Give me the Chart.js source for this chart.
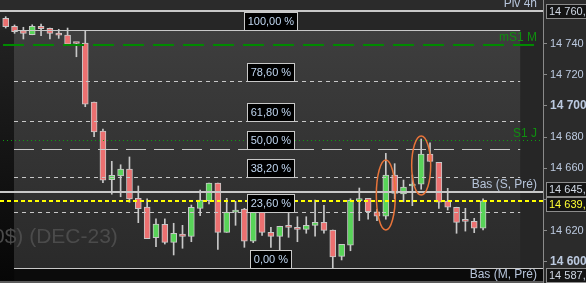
<!DOCTYPE html>
<html>
<head>
<meta charset="utf-8">
<script src="https://cdn.jsdelivr.net/npm/chart.js@4.4.0/dist/chart.umd.min.js"></script>
<style>
  html, body { margin: 0; padding: 0; background: #2b2b2b; }
  #wrap { width: 586px; height: 283px; position: relative; }
</style>
</head>
<body>
<div id="wrap"><canvas id="chart"></canvas></div>
<script>
// 4h candles (index 0 = leftmost, partly hidden)
var opens = [14756.0, 14756.1, 14751.0, 14748.2, 14745.6, 14751.0, 14749.7, 14746.7, 14745.4, 14740.2,
  14740.3, 14702.5, 14683.9, 14652.7, 14655.1, 14659.6, 14640.8, 14635.2, 14615.6, 14624.1,
  14612.6, 14617.9, 14616.4, 14634.4, 14639.3, 14650.6, 14619.0, 14632.0, 14633.9, 14613.3,
  14631.8, 14619.0, 14616.4, 14622.3, 14622.2, 14620.9, 14623.5, 14625.4, 14620.5, 14603.6,
  14610.7, 14639.3, 14640.8, 14632.2, 14629.3, 14655.7, 14643.6, 14648.7, 14649.8, 14669.2,
  14663.9, 14639.1, 14635.1, 14626.1, 14626.1, 14621.6];
var highs = [14757.6, 14757.2, 14751.9, 14750.4, 14752.0, 14752.5, 14749.9, 14749.1, 14749.9, 14740.2,
  14748.2, 14702.5, 14685.2, 14664.5, 14662.3, 14667.3, 14648.7, 14640.4, 14627.6, 14627.6,
  14624.8, 14623.5, 14636.5, 14646.1, 14650.6, 14650.6, 14640.8, 14638.9, 14634.4, 14634.0,
  14634.0, 14622.2, 14622.9, 14631.6, 14629.0, 14629.0, 14639.7, 14636.3, 14620.5, 14611.3,
  14640.5, 14647.4, 14640.8, 14633.8, 14669.6, 14663.0, 14652.5, 14655.7, 14678.8, 14676.4,
  14663.9, 14647.2, 14635.1, 14634.4, 14628.0, 14640.4];
var lows = [14749.3, 14749.9, 14746.5, 14742.9, 14745.6, 14745.0, 14742.9, 14743.3, 14739.5, 14731.5,
  14699.5, 14680.3, 14650.8, 14643.4, 14641.8, 14638.3, 14625.2, 14614.9, 14609.8, 14611.5,
  14604.5, 14608.8, 14613.0, 14629.7, 14637.2, 14608.1, 14619.0, 14623.5, 14609.4, 14612.4,
  14617.0, 14609.4, 14607.7, 14615.8, 14613.0, 14618.4, 14616.6, 14618.4, 14596.3, 14601.3,
  14607.2, 14626.5, 14627.4, 14626.5, 14627.4, 14640.5, 14638.6, 14636.1, 14646.6, 14664.5,
  14634.4, 14633.3, 14618.4, 14619.8, 14618.8, 14620.5];
var closes = [14751.0, 14750.8, 14747.6, 14746.5, 14751.0, 14749.5, 14746.5, 14745.3, 14739.5, 14740.0,
  14701.2, 14683.3, 14652.5, 14655.5, 14659.6, 14640.4, 14634.1, 14614.9, 14624.3, 14612.6,
  14618.4, 14616.4, 14635.0, 14639.7, 14650.6, 14619.0, 14631.8, 14633.3, 14613.3, 14632.2,
  14619.0, 14616.4, 14622.9, 14622.2, 14620.9, 14623.5, 14625.4, 14620.3, 14603.2, 14611.3,
  14639.5, 14640.5, 14632.2, 14629.3, 14655.7, 14644.0, 14648.0, 14650.0, 14669.2, 14664.5,
  14638.3, 14635.1, 14625.4, 14626.0, 14621.6, 14639.2];

var yTicks = [14600, 14620, 14640, 14660, 14680, 14700, 14720, 14740];

// fibonacci retracement
var fibHigh = 14748.6;
var fibLow = 14596.2;
var fibFrom = 1.94;
var fibTo = 59.2;
var fibLabelAt = 31;
var fibPct = [100, 78.6, 61.8, 50, 38.2, 23.6, 0];
var fibText = ['100,00 %', '78,60 %', '61,80 %', '50,00 %', '38,20 %', '23,60 %', '0,00 %'];

// horizontal levels
var levelNames = ['Piv 4h', 'mS1 M', 'S1 J', 'Bas (S, Pré)', 'Bas (M, Pré)'];
var levelValues = [14760.9, 14739.2, 14678.0, 14645.1, 14587.4];
var lastPrice = 14638.9;

// price boxes on the axis
var boxValues = [14760.9, 14645.1, 14638.9, 14587.4];
var boxTexts = ['14 760,9', '14 645,1', '14 639,1', '14 587,4'];

// circled candles
var markIndex = [44, 48];
var markLow = [14620.5, 14642.9];
var markHigh = [14665.4, 14680.7];

var bodies = [], wicks = [];
for (var i = 0; i < opens.length; i++) {
  bodies.push({x: i, y: [opens[i], closes[i]]});
  wicks.push({x: i, y: [lows[i], highs[i]]});
}

var FONT = '"Liberation Sans", Arial, sans-serif';

function hline(ctx, x1, x2, y, color, width, dash) {
  ctx.save();
  ctx.strokeStyle = color;
  ctx.lineWidth = width;
  ctx.setLineDash(dash || []);
  var yy = width % 2 === 1 ? Math.round(y) + 0.5 : Math.round(y);
  ctx.beginPath();
  ctx.moveTo(x1, yy);
  ctx.lineTo(x2, yy);
  ctx.stroke();
  ctx.restore();
}

var decor = {
  id: 'decor',
  beforeDraw: function (chart) {
    var ctx = chart.ctx, ca = chart.chartArea;
    var W = chart.width, H = chart.height;
    var sx = chart.scales.x, sy = chart.scales.y;
    var yTop = sy.getPixelForValue(fibHigh), yBot = sy.getPixelForValue(fibLow);
    var xa = sx.getPixelForValue(fibFrom), xb = sx.getPixelForValue(fibTo);
    var yPiv = sy.getPixelForValue(levelValues[0]);
    ctx.save();
    ctx.fillStyle = '#2b2b2b';
    ctx.fillRect(0, 0, W, H);
    ctx.fillStyle = '#262626';
    ctx.fillRect(ca.left, yPiv, ca.right - ca.left, H - yPiv);
    var g = ctx.createLinearGradient(0, yTop, 0, H);
    g.addColorStop(0, '#222222');
    g.addColorStop(1, '#060606');
    ctx.fillStyle = g;
    ctx.fillRect(ca.left, Math.round(yTop), xa - ca.left, H - yTop);
    ctx.fillStyle = '#0b0b0b';
    ctx.fillRect(xa, Math.round(yBot), ca.right - xa, H - yBot);
    var g2 = ctx.createLinearGradient(0, yTop, 0, yBot);
    g2.addColorStop(0, '#3e3e3e');
    g2.addColorStop(1, '#2a2a2a');
    ctx.fillStyle = g2;
    ctx.fillRect(xa, Math.round(yTop), xb - xa, Math.round(yBot) - Math.round(yTop));
    // watermark
    ctx.fillStyle = '#4b4b4b';
    ctx.font = '21px ' + FONT;
    ctx.textBaseline = 'alphabetic';
    ctx.textAlign = 'left';
    ctx.fillText('0$) (DEC-23)', ca.left - 7, yBot - 25);
    ctx.restore();
  },
  afterDatasetsDraw: function (chart) {
    var ctx = chart.ctx, ca = chart.chartArea;
    var sx = chart.scales.x, sy = chart.scales.y;
    var xa = sx.getPixelForValue(fibFrom), xb = sx.getPixelForValue(fibTo);

    // fib levels
    for (var k = 0; k < fibPct.length; k++) {
      var y = sy.getPixelForValue(fibLow + fibPct[k] / 100 * (fibHigh - fibLow));
      if (fibPct[k] === 100) hline(ctx, xa, xb, y, '#c8c8c8', 1);
      else if (fibPct[k] === 0) hline(ctx, xa, ca.right, y, '#c8c8c8', 1);
      else if (fibPct[k] === 50) hline(ctx, xa, xb, y, '#c8c8c8', 1, [20, 8]);
      else hline(ctx, xa, xb, y, '#c8c8c8', 1, [4, 4]);
    }

    // other levels
    hline(ctx, ca.left, ca.right, sy.getPixelForValue(levelValues[0]), '#c8c8c8', 2);
    hline(ctx, ca.left + 3, ca.right - 8, sy.getPixelForValue(levelValues[1]), '#008a00', 2, [21, 9]);
    hline(ctx, ca.left + 3, ca.right, sy.getPixelForValue(levelValues[2]), '#109a10', 1, [1, 3]);
    hline(ctx, ca.left, ca.right, sy.getPixelForValue(levelValues[3]), '#c8c8c8', 2);
    hline(ctx, ca.left, ca.right, sy.getPixelForValue(levelValues[4]), '#5c5c5c', 2);
    hline(ctx, ca.left, ca.right, sy.getPixelForValue(lastPrice), '#ffff00', 2, [4, 3]);

    // level names
    ctx.save();
    ctx.font = '12px ' + FONT;
    ctx.textAlign = 'right';
    ctx.textBaseline = 'middle';
    for (var n = 0; n < levelNames.length; n++) {
      ctx.fillStyle = (n === 1 || n === 2) ? '#0f8f0f' : '#b6c4da';
      ctx.fillText(levelNames[n], ca.right - 6, sy.getPixelForValue(levelValues[n]) - 7);
    }
    ctx.restore();

    // circled candles
    ctx.save();
    ctx.strokeStyle = '#e8743a';
    ctx.lineWidth = 1.5;
    for (var m = 0; m < markIndex.length; m++) {
      var y1 = sy.getPixelForValue(markHigh[m]), y2 = sy.getPixelForValue(markLow[m]);
      ctx.beginPath();
      ctx.ellipse(sx.getPixelForValue(markIndex[m]), (y1 + y2) / 2, 9.5, (y2 - y1) / 2, 0, 0, Math.PI * 2);
      ctx.stroke();
    }
    ctx.restore();

    // fib labels
    ctx.save();
    ctx.font = '11px ' + FONT;
    ctx.textAlign = 'center';
    ctx.textBaseline = 'middle';
    var cx = sx.getPixelForValue(fibLabelAt);
    for (var f = 0; f < fibPct.length; f++) {
      var ly = Math.round(sy.getPixelForValue(fibLow + fibPct[f] / 100 * (fibHigh - fibLow)));
      var w = Math.round(ctx.measureText(fibText[f]).width) + 7;
      var bx = Math.round(cx - w / 2) + 0.5;
      ctx.fillStyle = '#000000';
      ctx.fillRect(bx, ly - 18 + 0.5, w, 18);
      ctx.strokeStyle = '#c8c8c8';
      ctx.lineWidth = 1;
      ctx.strokeRect(bx, ly - 18 + 0.5, w, 18);
      ctx.fillStyle = '#c0d6f0';
      ctx.fillText(fibText[f], cx, ly - 8.5);
    }
    ctx.restore();
  },
  afterDraw: function (chart) {
    var ctx = chart.ctx, ca = chart.chartArea, H = chart.height;
    var sy = chart.scales.y;
    var nudge = [0, -2.5, 3, 0];
    ctx.save();
    ctx.font = '11px ' + FONT;
    ctx.textAlign = 'left';
    ctx.textBaseline = 'middle';
    for (var b = 0; b < boxValues.length; b++) {
      var c = sy.getPixelForValue(boxValues[b]) + nudge[b];
      c = Math.min(c, H - 8);
      var top = Math.round(c - 7) + 0.5;
      ctx.fillStyle = '#141414';
      ctx.fillRect(ca.right + 3.5, top, 60, 14);
      ctx.strokeStyle = '#8c8c8c';
      ctx.lineWidth = 1;
      ctx.strokeRect(ca.right + 3.5, top, 60, 14);
      ctx.fillStyle = b === 2 ? '#ffff33' : '#d0d8e4';
      ctx.fillText(boxTexts[b], ca.right + 6, top + 7.5);
    }
    ctx.restore();
  }
};

var config = {
  type: 'bar',
  data: {
    datasets: [{
      label: 'corps',
      data: bodies,
      grouped: false,
      barThickness: 6,
      minBarLength: 2,
      borderWidth: 1,
      borderSkipped: false,
      borderColor: '#c8c8c8',
      backgroundColor: function (c) {
        var i = c.dataIndex;
        return closes[i] >= opens[i] ? '#58d458' : '#ec7070';
      }
    }, {
      label: 'mèches',
      data: wicks,
      grouped: false,
      barThickness: 1,
      borderWidth: 0,
      backgroundColor: '#c8c8c8'
    }]
  },
  options: {
    responsive: true,
    maintainAspectRatio: false,
    animation: false,
    layout: { padding: 0 },
    plugins: { legend: { display: false }, tooltip: { enabled: false } },
    scales: {
      x: {
        type: 'linear',
        display: false,
        offset: false,
        min: 0.355,
        max: 61.78
      },
      y: {
        position: 'right',
        min: 14586.54,
        max: 14767.87,
        afterBuildTicks: function (s) {
          s.ticks = yTicks.map(function (v) { return {value: v}; });
        },
        afterFit: function (s) {
          s.width = 43;
          s.paddingTop = 0;
          s.paddingBottom = 0;
        },
        grid: { drawOnChartArea: false, tickLength: 4, tickColor: '#8a8a8a' },
        border: { color: '#8a8a8a', width: 1 },
        ticks: {
          padding: 3,
          color: '#bccae0',
          font: function (c) {
            return (c.tick && c.tick.value % 100 === 0)
              ? {family: FONT, size: 12, weight: 'bold'}
              : {family: FONT, size: 11};
          },
          callback: function (v) {
            return String(v).replace(/\B(?=(\d{3})+(?!\d))/g, ' ');
          }
        }
      }
    }
  },
  plugins: [decor]
};

var myChart = new Chart(document.getElementById('chart'), config);
</script>
</body>
</html>
